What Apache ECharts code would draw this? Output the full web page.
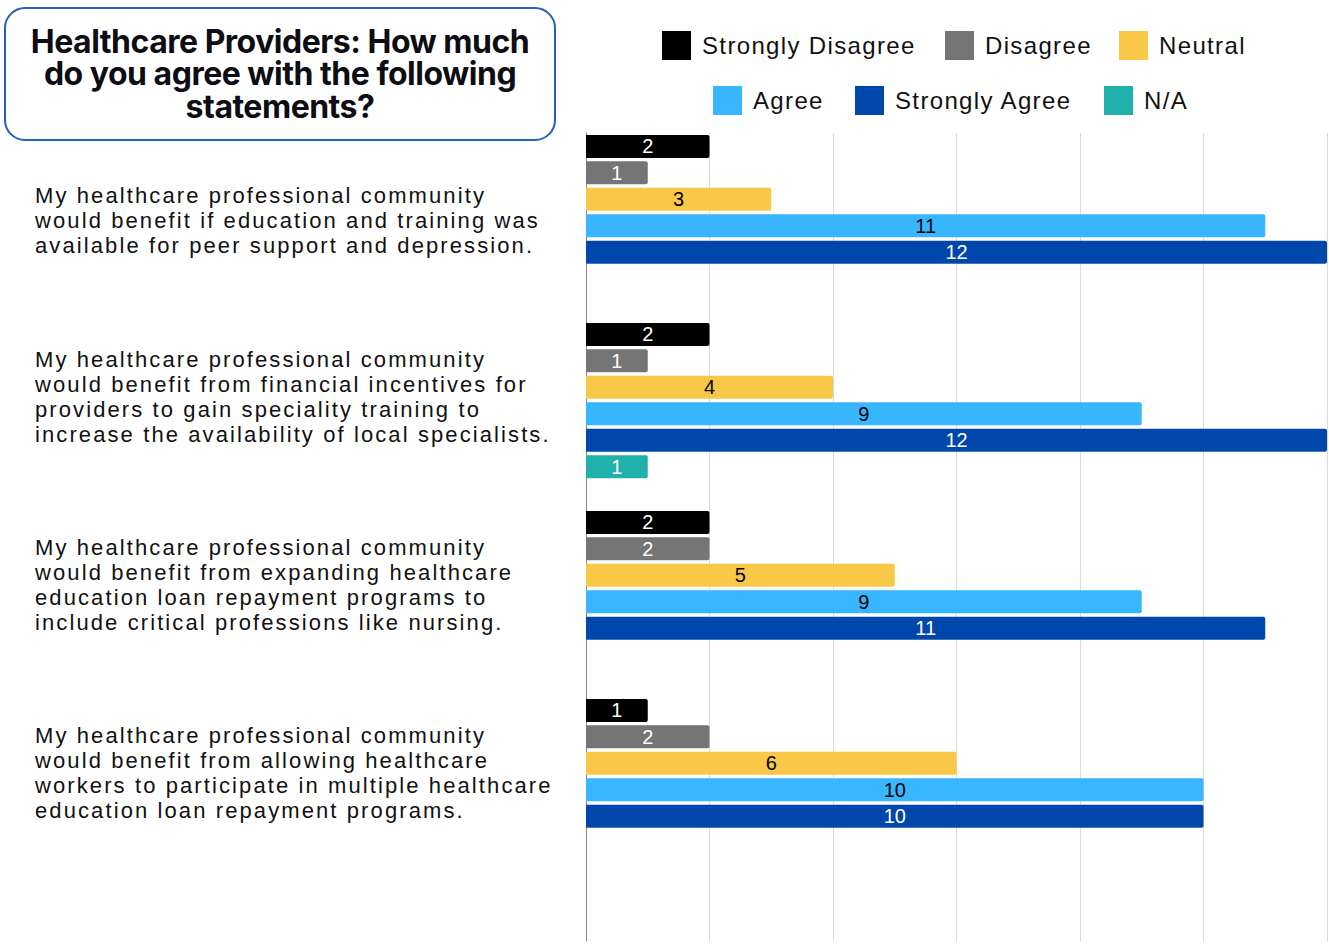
<!DOCTYPE html>
<html>
<head>
<meta charset="utf-8">
<script src="https://cdn.jsdelivr.net/npm/echarts@6/dist/echarts.min.js"></script>
<style>
  html, body { margin: 0; padding: 0; background: #ffffff; }
  #chart { width: 1329px; height: 945px; }
  /* looser tracking for the statement labels (22px) and legend entries (24px), tighter title */
  #chart text[style*="22px"] { letter-spacing: 2.1px; }
  #chart text[style*="24px"] { letter-spacing: 1.35px; }
  #chart text[style*="32px"] { letter-spacing: -0.5px; }
</style>
</head>
<body>
<div id="chart"></div>
<script>
// Survey statements (category axis)
const statements = [
  'My healthcare professional community\nwould benefit if education and training was\navailable for peer support and depression.',
  'My healthcare professional community\nwould benefit from financial incentives for\nproviders to gain speciality training to\nincrease the availability of local specialists.',
  'My healthcare professional community\nwould benefit from expanding healthcare\neducation loan repayment programs to\ninclude critical professions like nursing.',
  'My healthcare professional community\nwould benefit from allowing healthcare\nworkers to participate in multiple healthcare\neducation loan repayment programs.'
];

// Response counts per statement
const stronglyDisagree = [2, 2, 2, 1];
const disagree         = [1, 1, 2, 2];
const neutral          = [3, 4, 5, 6];
const agree            = [11, 9, 9, 10];
const stronglyAgree    = [12, 12, 11, 10];
const notApplicable    = [null, 1, null, null];

const seriesNames = ['Strongly Disagree', 'Disagree', 'Neutral', 'Agree', 'Strongly Agree', 'N/A'];
const seriesColors = ['#000000', '#757575', '#f9c846', '#38b6ff', '#0047ab', '#20b2aa'];
const labelColors = ['#ffffff', '#ffffff', '#000000', '#000000', '#ffffff', '#ffffff'];
const seriesValues = [stronglyDisagree, disagree, neutral, agree, stronglyAgree, notApplicable];

const axisMax = 12;
const axisStep = 2;

// legend entry placement: two rows of three
const legendSpots = [
  { left: 662, top: 31 }, { left: 945, top: 31 }, { left: 1119, top: 31 },
  { left: 713, top: 86 }, { left: 855, top: 86 }, { left: 1104, top: 86 }
];

const chart = echarts.init(document.getElementById('chart'), null, { renderer: 'svg' });

const series = seriesNames.map((name, i) => ({
  name: name,
  type: 'bar',
  xAxisIndex: 0,
  yAxisIndex: 0,
  data: seriesValues[i],
  barWidth: 23,
  barGap: '15%',
  itemStyle: { color: seriesColors[i], borderRadius: [0, 2, 2, 0] },
  label: {
    show: true,
    position: 'inside',
    color: labelColors[i],
    fontFamily: 'Liberation Sans',
    fontSize: 20
  },
  emphasis: { disabled: true }
}));

const legends = seriesNames.map((name, i) => ({
  data: [name],
  left: legendSpots[i].left,
  top: legendSpots[i].top,
  padding: 0,
  icon: 'rect', itemWidth: 29, itemHeight: 29,
  textStyle: { fontFamily: 'Liberation Sans', fontSize: 24, color: '#111111', padding: [0, 0, 0, 6] },
  selectedMode: false
}));

chart.setOption({
  animation: false,
  backgroundColor: '#ffffff',
  graphic: [
    {
      type: 'rect',
      left: 4, top: 7,
      shape: { width: 550, height: 132, r: 20 },
      style: { fill: '#ffffff', stroke: '#1f5fc0', lineWidth: 2 }
    },
    {
      type: 'text',
      x: 280, y: 25,
      style: {
        text: 'Healthcare Providers: How much\ndo you agree with the following\nstatements?',
        font: 'bold 32px Inter',
        fill: '#0d0d14',
        align: 'center',
        verticalAlign: 'top',
        lineHeight: 32.5
      }
    }
  ],
  legend: legends,
  grid: [
    { left: 586, right: 2, top: 118.5, bottom: 74.5, containLabel: false, outerBoundsMode: 'none' },
    { left: 586, right: 2, top: 133, bottom: 4, containLabel: false, outerBoundsMode: 'none' }
  ],
  xAxis: [
    { type: 'value', gridIndex: 0, min: 0, max: axisMax, interval: axisStep, show: false, splitLine: { show: false } },
    {
      type: 'value', gridIndex: 1, min: 0, max: axisMax, interval: axisStep,
      axisLine: { show: false }, axisTick: { show: false }, axisLabel: { show: false },
      splitLine: { show: true, lineStyle: { color: '#dadada', width: 1 } }
    }
  ],
  yAxis: [
    {
      type: 'category', gridIndex: 0, inverse: true, data: statements,
      axisLine: { show: false }, axisTick: { show: false },
      axisLabel: {
        margin: 551, align: 'left',
        fontFamily: 'Liberation Sans', fontSize: 22, lineHeight: 25, color: '#111111',
        // small spacer lines nudge each statement block to sit beside its bars
        formatter: (v, i) => i === 0 ? '{s| }\n' + v : v + '\n{t| }',
        rich: {
          s: { fontSize: 1, lineHeight: 16 },
          t: { fontSize: 1, lineHeight: 8 }
        }
      }
    },
    {
      type: 'category', gridIndex: 1, data: [''],
      axisLine: { show: true, lineStyle: { color: '#8a8a8a', width: 1 } },
      axisTick: { show: false }, axisLabel: { show: false }
    }
  ],
  series: series
});
</script>
</body>
</html>
